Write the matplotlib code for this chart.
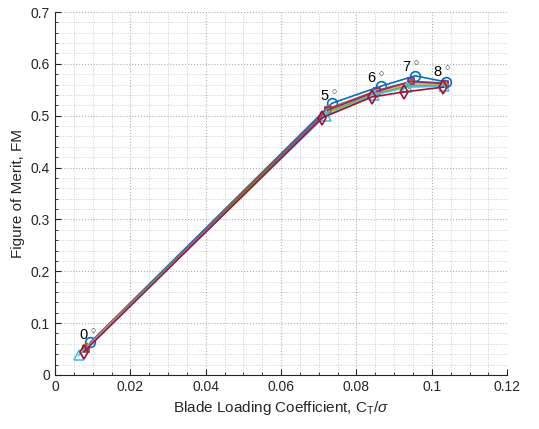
import matplotlib
matplotlib.use("Agg")
import matplotlib.pyplot as plt
import matplotlib.ticker as ticker

plt.rcParams['font.family'] = ['Liberation Sans', 'DejaVu Sans']
plt.rcParams['mathtext.fontset'] = 'custom'
plt.rcParams['mathtext.rm'] = 'Liberation Sans'
plt.rcParams['mathtext.it'] = 'Liberation Sans:italic'

# collective pitch angles, one point per angle
pitch_labels = ['0', '5', '6', '7', '8']

# blade loading coefficient CT/sigma for each case
ct_blue   = [0.0094, 0.0735, 0.0865, 0.0956, 0.1038]
ct_orange = [0.0086, 0.0726, 0.0856, 0.0946, 0.1036]
ct_yellow = [0.0083, 0.0722, 0.0852, 0.0942, 0.1035]
ct_purple = [0.0081, 0.0724, 0.0854, 0.0944, 0.1036]
ct_green  = [0.0079, 0.0719, 0.0849, 0.0939, 0.1034]
ct_cyan   = [0.0063, 0.0718, 0.0846, 0.0935, 0.1033]
ct_red    = [0.0077, 0.0709, 0.0841, 0.0927, 0.1030]

# figure of merit
fm_blue   = [0.063, 0.524, 0.557, 0.577, 0.565]
fm_orange = [0.056, 0.514, 0.549, 0.566, 0.563]
fm_yellow = [0.053, 0.509, 0.545, 0.562, 0.561]
fm_purple = [0.051, 0.511, 0.547, 0.566, 0.562]
fm_green  = [0.048, 0.505, 0.542, 0.558, 0.559]
fm_cyan   = [0.038, 0.500, 0.540, 0.555, 0.557]
fm_red    = [0.045, 0.496, 0.536, 0.546, 0.555]

# label anchor points for the pitch angles
label_x = [0.0064, 0.0703, 0.0828, 0.0921, 0.1003]
label_y = [0.075, 0.536, 0.571, 0.592, 0.582]

series = [
    (ct_blue, fm_blue, '#0072BD', 'o'),
    (ct_orange, fm_orange, '#D95319', '*'),
    (ct_yellow, fm_yellow, '#EDB120', 'x'),
    (ct_purple, fm_purple, '#7E2F8E', 's'),
    (ct_green, fm_green, '#77AC30', '+'),
    (ct_cyan, fm_cyan, '#4DBEEE', '^'),
    (ct_red, fm_red, '#A2142F', 'd'),
]

fig = plt.figure(figsize=(5.39, 4.29), dpi=100)
ax = fig.add_axes([0.102, 0.126, 0.839, 0.846])

for ct, fm, col, mk in series:
    big = mk in ('o', 'd', '^')
    ax.plot(ct, fm, color=col, marker=mk, linewidth=1.2,
            markersize=7 if big else 5, markerfacecolor='none',
            markeredgewidth=1.2)

for lab, tx, ty in zip(pitch_labels, label_x, label_y):
    ax.text(tx, ty, lab + r'$^{\,\circ}$', fontsize=10.5, ha='left',
            va='center', color='black')

ax.set_xlim(0, 0.12)
ax.set_ylim(0, 0.7)
ax.xaxis.set_major_locator(ticker.MultipleLocator(0.02))
ax.xaxis.set_minor_locator(ticker.MultipleLocator(0.005))
ax.yaxis.set_major_locator(ticker.MultipleLocator(0.1))
ax.yaxis.set_minor_locator(ticker.MultipleLocator(0.02))
ax.xaxis.set_major_formatter(ticker.FuncFormatter(lambda v, p: f"{v:g}"))
ax.yaxis.set_major_formatter(ticker.FuncFormatter(lambda v, p: f"{v:g}"))

ax.grid(True, which='major', linestyle=':', color='#b0b0b0', linewidth=0.8)
ax.grid(True, which='minor', linestyle=':', color='#cccccc', linewidth=0.7)
ax.set_axisbelow(True)

for s in ('top', 'right'):
    ax.spines[s].set_visible(False)
for s in ('left', 'bottom'):
    ax.spines[s].set_color('#262626')
    ax.spines[s].set_linewidth(0.8)

ax.tick_params(which='both', direction='in', colors='#262626', labelsize=10)
ax.tick_params(which='major', length=4)
ax.tick_params(which='minor', length=2)

ax.set_xlabel(r'Blade Loading Coefficient, C$_{\mathrm{T}}$/$\sigma$',
              fontsize=11, color='#262626')
ax.set_ylabel('Figure of Merit, FM', fontsize=11, color='#262626')

fig.savefig('out.png', dpi=100)
